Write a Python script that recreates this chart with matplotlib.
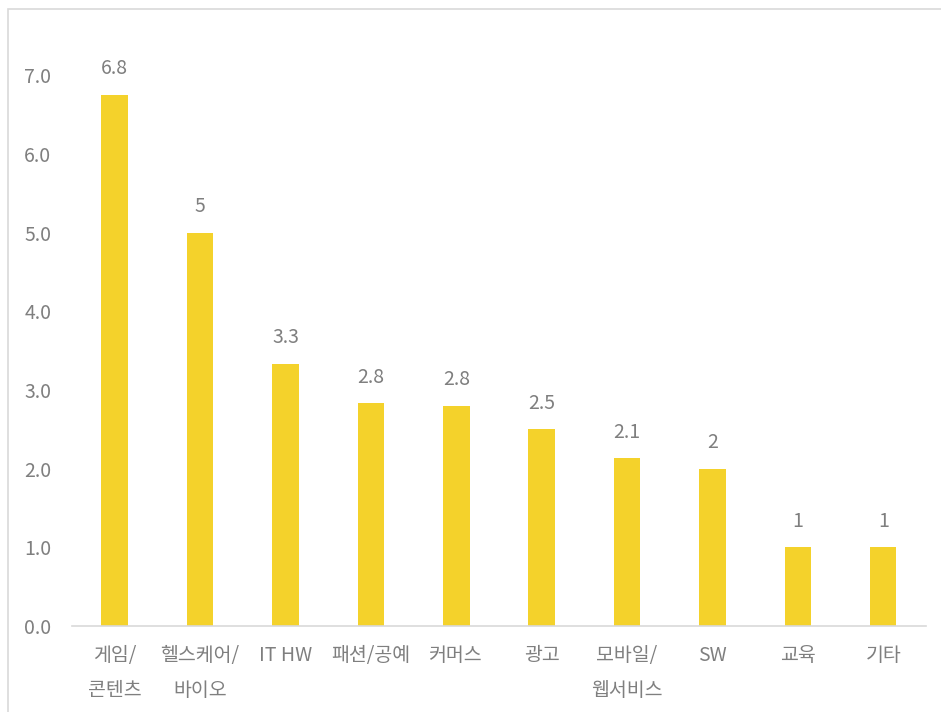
import matplotlib
matplotlib.use("Agg")
import matplotlib.pyplot as plt
from matplotlib.patches import Rectangle

plt.rcParams['font.family'] = ['Noto Sans CJK KR', 'DejaVu Sans']

categories = ["게임/\n콘텐츠", "헬스케어/\n바이오", "IT HW", "패션/공예", "커머스", "광고", "모바일/\n웹서비스", "SW", "교육", "기타"]
values = [6.75, 5.0, 3.33, 2.83, 2.8, 2.5, 2.13, 2.0, 1.0, 1.0]
value_labels = ["6.8", "5", "3.3", "2.8", "2.8", "2.5", "2.1", "2", "1", "1"]
yticks = [0, 1, 2, 3, 4, 5, 6, 7]

bar_color = "#F4D22B"
text_color = "#7F7F7F"

fig = plt.figure(figsize=(9.41, 7.12), dpi=100)
ax = fig.add_axes([0.0765, 0.1208, 0.9075, 0.84])

x = list(range(len(categories)))
ax.bar(x, values, width=0.31, color=bar_color)
for xi, v, lab in zip(x, values, value_labels):
    ax.text(xi, v + 0.2, lab, ha="center", va="bottom", fontsize=14, color=text_color,
            fontweight="light")

ax.set_xlim(-0.5, len(categories) - 0.5)
ax.set_ylim(0, 7.6)
ax.set_yticks(yticks)
ax.set_yticklabels([f"{t:.1f}" for t in yticks], fontsize=14, color=text_color, fontweight="light")
ax.set_xticks(x)
ax.set_xticklabels(categories, fontsize=14, color=text_color, linespacing=1.85, va="top",
                   fontweight="light")
ax.tick_params(axis="both", length=0)
ax.tick_params(axis="y", pad=15)
ax.tick_params(axis="x", pad=14)
for s in ["top", "right", "left"]:
    ax.spines[s].set_visible(False)
ax.spines["bottom"].set_color("#D9D9D9")
ax.spines["bottom"].set_linewidth(1.2)

# outer frame of the chart area
fig.patches.append(Rectangle((8 / 941, -0.01), 1.0, 1 - 9 / 712 + 0.01, transform=fig.transFigure,
                             fill=False, edgecolor="#D9D9D9", linewidth=1.2))

fig.savefig("out.png", dpi=100)
